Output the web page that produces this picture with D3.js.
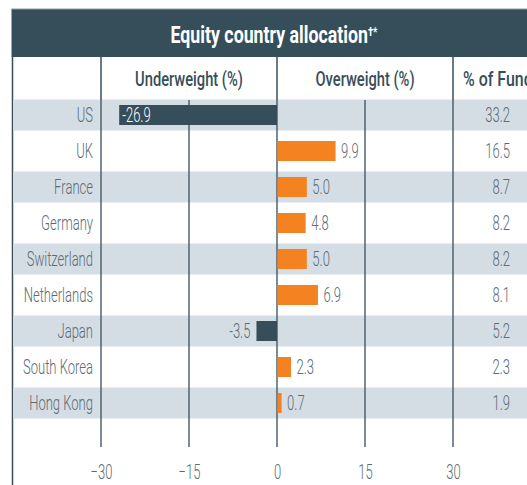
<!DOCTYPE html>
<html>
<head>
<meta charset="utf-8">
<script src="https://cdn.jsdelivr.net/npm/d3@7"></script>
<style>
  html, body { margin: 0; padding: 0; background: #fff; overflow: hidden; }
  svg { display: block; }
</style>
</head>
<body>
<script>
// ---- data ----
const countries = ["US", "UK", "France", "Germany", "Switzerland", "Netherlands", "Japan", "South Korea", "Hong Kong"];
const activeWeights = [-26.9, 9.9, 5.0, 4.8, 5.0, 6.9, -3.5, 2.3, 0.7];
const fundPercent = ["33.2", "16.5", "8.7", "8.2", "8.2", "8.1", "5.2", "2.3", "1.9"];
const tickValues = [-30, -15, 0, 15, 30];
const titleText = "Equity country allocation";
const titleMarks = "\u2020*";
const headers = ["Underweight (%)", "Overweight (%)", "% of Fund"];

// ---- styles ----
const W = 527, H = 485;
const dark = "#364e5a";
const orange = "#f58220";
const band = "#d5dde4";
const grey = "#5c6c77";
const FONT = "Roboto, 'Liberation Sans', sans-serif";
const SX = 0.62; // horizontal condensing

const svg = d3.select("body").append("svg").attr("width", W).attr("height", H);

const x = d3.scaleLinear().domain([-30, 30]).range([101, 453]);
const y = d3.scaleBand().domain(countries).range([97, 421]).paddingInner(0).paddingOuter(0);
const rowH = y.bandwidth();

function ctext(g, px, py, str, o) {
  const t = g.append("text")
    .attr("transform", `translate(${px},${py}) scale(${o.sx || SX},1)`)
    .attr("text-anchor", o.anchor || "start")
    .attr("dy", o.dy || "0.35em")
    .style("font-family", FONT)
    .style("font-size", (o.size || 21) + "px")
    .style("font-weight", o.weight || 300)
    .attr("fill", o.fill || grey)
    .text(str);
  return t;
}

// header bar
svg.append("rect").attr("x", 11.5).attr("y", 9).attr("width", W).attr("height", 48).attr("fill", dark);
svg.append("line").attr("x1", 11.5).attr("x2", W).attr("y1", 9).attr("y2", 9).attr("stroke", "#8c9aa3").attr("stroke-width", 1);
const tt = ctext(svg, 274, 35, titleText, {anchor: "middle", size: 24, weight: 700, fill: "#fff", sx: 0.74});
tt.append("tspan").attr("dy", "-0.55em").style("font-size", "13px").text(titleMarks);

// left border
svg.append("line").attr("x1", 12.5).attr("x2", 12.5).attr("y1", 57).attr("y2", H).attr("stroke", dark).attr("stroke-width", 1.5);

// bands
svg.append("g").selectAll("rect")
  .data(countries.filter((d, i) => i % 2 === 0))
  .join("rect")
  .attr("x", 13).attr("width", W - 13)
  .attr("y", d => y(d) + rowH / 2 - 15.5)
  .attr("height", 31)
  .attr("fill", band);

// header column dividers (header row)
svg.append("g").selectAll("line")
  .data([-30, 0, 30])
  .join("line")
  .attr("x1", d => x(d)).attr("x2", d => x(d))
  .attr("y1", 57).attr("y2", 100)
  .attr("stroke", dark).attr("stroke-width", 1.5);

// gridlines
svg.append("g").selectAll("line")
  .data(tickValues)
  .join("line")
  .attr("x1", d => x(d)).attr("x2", d => x(d))
  .attr("y1", 100).attr("y2", 447)
  .attr("stroke", dark).attr("stroke-width", 1.3);

// sub headers
ctext(svg, (x(-30) + x(0)) / 2, 79, headers[0], {anchor: "middle", size: 21, weight: 500, fill: dark, sx: 0.7});
ctext(svg, (x(0) + x(30)) / 2, 79, headers[1], {anchor: "middle", size: 21, weight: 500, fill: dark, sx: 0.7});
ctext(svg, x(30) + 10, 79, headers[2], {anchor: "start", size: 21, weight: 500, fill: dark, sx: 0.76});

// bars
const barH = 20;
svg.append("g").selectAll("rect")
  .data(countries.map((c, i) => ({c, v: activeWeights[i]})))
  .join("rect")
  .attr("x", d => d.v < 0 ? x(d.v) : x(0) + 0.5)
  .attr("width", d => Math.abs(x(d.v) - x(0)))
  .attr("y", d => y(d.c) + rowH / 2 - barH / 2)
  .attr("height", barH)
  .attr("fill", d => d.v < 0 ? dark : orange);

// row labels
const lab = svg.append("g");
countries.forEach((c, i) => {
  const cy = y(c) + rowH / 2;
  ctext(lab, 93, cy, c, {anchor: "end"});
  const v = activeWeights[i];
  const s = v.toFixed(1);
  if (v < 0) {
    if (x(0) - x(v) > 40) ctext(lab, x(v) + 3, cy, s, {anchor: "start", fill: "#fff"});
    else ctext(lab, x(v) - 6, cy, s, {anchor: "end"});
  } else {
    ctext(lab, x(v) + 6, cy, s, {anchor: "start"});
  }
  ctext(lab, 510, cy, fundPercent[i], {anchor: "end"});
});

// axis tick labels
const axis = d3.axisBottom(x).tickValues(tickValues).tickSize(0).tickPadding(0).tickFormat(d3.format("d"));
const ag = svg.append("g").attr("transform", "translate(0,472)").call(axis);
ag.select(".domain").remove();
ag.selectAll("text").remove();
ag.selectAll(".tick").each(function(d) {
  ctext(d3.select(this), 0, 0, d3.format("d")(d), {anchor: "middle"});
});
</script>
</body>
</html>
